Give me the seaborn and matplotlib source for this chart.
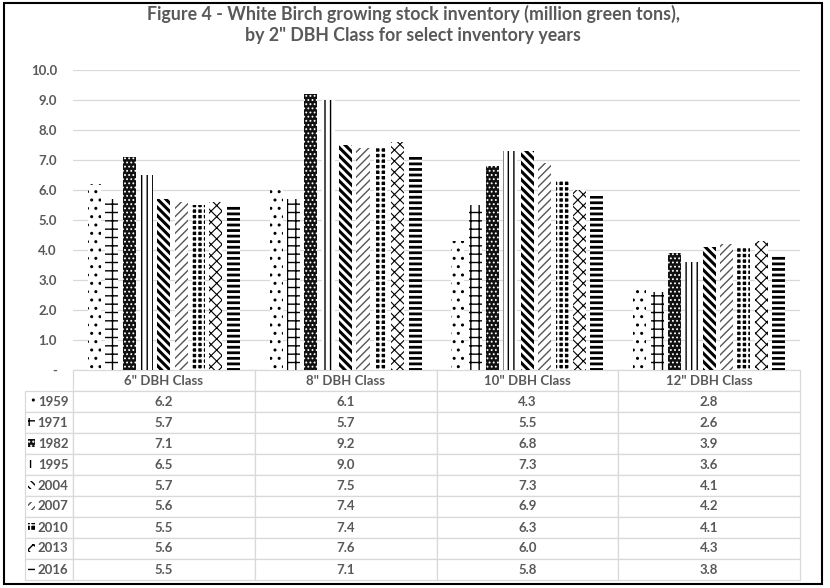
import numpy as np
import pandas as pd
import matplotlib
matplotlib.use("Agg")
import matplotlib.pyplot as plt
from matplotlib.patches import Rectangle
import seaborn as sns

classes = ['6" DBH Class', '8" DBH Class', '10" DBH Class', '12" DBH Class']
years = ["1959", "1971", "1982", "1995", "2004", "2007", "2010", "2013", "2016"]

v1959 = [6.2, 6.1, 4.3, 2.8]
v1971 = [5.7, 5.7, 5.5, 2.6]
v1982 = [7.1, 9.2, 6.8, 3.9]
v1995 = [6.5, 9.0, 7.3, 3.6]
v2004 = [5.7, 7.5, 7.3, 4.1]
v2007 = [5.6, 7.4, 6.9, 4.2]
v2010 = [5.5, 7.4, 6.3, 4.1]
v2013 = [5.6, 7.6, 6.0, 4.3]
v2016 = [5.5, 7.1, 5.8, 3.8]
series = [v1959, v1971, v1982, v1995, v2004, v2007, v2010, v2013, v2016]

title = ("Figure 4 - White Birch growing stock inventory (million green tons),\n"
         "by 2\" DBH Class for select inventory years")

# facecolor, hatch colour, hatch, hatch linewidth
styles = [
    ("white", "black", "..", 1.0),
    ("white", "black", "++", 1.0),
    ("#111111", "white", "....", 0.8),
    ("white", "black", "|||", 1.0),
    ("white", "black", "\\\\\\\\", 2.2),
    ("white", "#555555", "////", 1.0),
    ("black", "white", "+++", 1.5),
    ("white", "black", "xxx", 0.8),
    ("white", "black", "---", 2.0),
]

grey = "#595959"
W, H = 830, 588

sns.set_style("white")
plt.rcParams["font.family"] = ["Lato", "DejaVu Sans"]

rows = []
for y, vals in zip(years, series):
    for c, v in zip(classes, vals):
        rows.append({"dbh": c, "year": y, "value": v})
df = pd.DataFrame(rows)

fig = plt.figure(figsize=(W / 100, H / 100), dpi=100)
# axes in pixel terms: x 73..800, y(10)=70, y(0)=370
ax = fig.add_axes([73 / W, 1 - 370 / H, 727 / W, 300 / H])

sns.barplot(data=df, x="dbh", y="value", hue="year", order=classes,
            hue_order=years, width=0.86, gap=0.25, legend=False, ax=ax)

for cont, (fc, hc, hatch, hlw) in zip(ax.containers, styles):
    for p in cont:
        p.set_facecolor(fc)
        p.set_edgecolor(hc)
        p.set_linewidth(0)
        p.set_hatch(hatch)
        if hasattr(p, "set_hatch_linewidth"):
            p.set_hatch_linewidth(hlw)

ax.set_ylim(0, 10)
ax.set_xlim(-0.5, 3.5)
ax.set_yticks(np.arange(0, 11, 1))
ax.set_yticklabels(["-"] + [f"{v:.1f}" for v in range(1, 11)])
ax.tick_params(axis="y", length=0, pad=11.5, labelsize=9.5, labelcolor=grey)
for t in ax.get_yticklabels():
    t.set_fontweight("bold")
ax.set_xticks([])
ax.set_xlabel("")
ax.set_ylabel("")
ax.yaxis.grid(True, color="#d9d9d9", lw=0.9)
ax.set_axisbelow(True)
for s in ax.spines.values():
    s.set_visible(False)

# data table under the plot
cell_text = [[y] + [f"{v:.1f}" for v in vals] for y, vals in zip(years, series)]
x0 = (25 - 73) / 727
tw = (800 - 25) / 727
th = (580 - 370) / 300
tbl = ax.table(cellText=cell_text, colLabels=[""] + classes, cellLoc="center",
               colWidths=[48, 181.75, 181.75, 181.75, 181.75],
               bbox=[x0, -th, tw, th])
tbl.auto_set_font_size(False)
tbl.set_fontsize(9.5)
for (r, c), cell in tbl.get_celld().items():
    cell.set_edgecolor("#d9d9d9")
    cell.set_linewidth(0.9)
    cell.get_text().set_color(grey)
    cell.get_text().set_fontweight("bold")
    if r == 0 and c == 0:
        cell.visible_edges = ""
    if r > 0 and c == 0:
        cell.get_text().set_ha("right")
        cell.PAD = 0.1

# legend keys inside the table's first column
for i, (fc, hc, hatch, hlw) in enumerate(styles):
    cy = 401.5 + i * 20.9
    sw = Rectangle((28 / W, 1 - (cy + 4) / H), 7 / W, 8 / H,
                   transform=fig.transFigure, facecolor=fc, edgecolor=hc,
                   linewidth=0, hatch=hatch)
    fig.add_artist(sw)

fig.text(413 / W, 1 - 24.5 / H, title, ha="center", va="center",
         fontsize=12.75, fontweight="bold", color=grey, linespacing=1.3)

fig.add_artist(Rectangle((4 / W, 1 - 584 / H), 818 / W, 581 / H,
                         transform=fig.transFigure, fill=False,
                         edgecolor="black", linewidth=1.5))

fig.savefig("out.png", dpi=100)
